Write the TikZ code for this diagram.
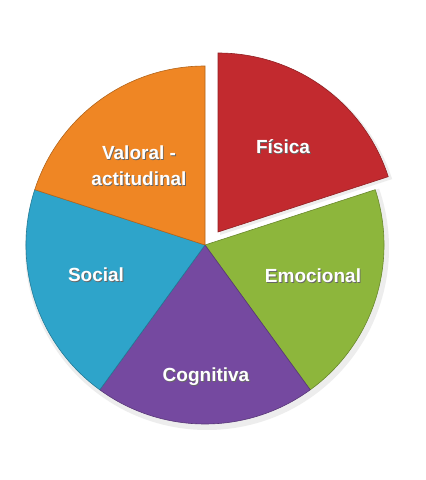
\documentclass[tikz,border=0pt]{standalone}
\usepackage{fontspec}
\setmainfont{Liberation Sans}
\usetikzlibrary{calc}
\definecolor{cred}{HTML}{C22A2F}
\definecolor{cgreen}{HTML}{8DB63C}
\definecolor{cpurple}{HTML}{7549A0}
\definecolor{cblue}{HTML}{2EA4CA}
\definecolor{corange}{HTML}{EF8624}
\newcommand{\shd}[1]{\rlap{\kern0.9pt\raisebox{-0.9pt}{\color{black!60}#1}}#1}
\begin{document}
\begin{tikzpicture}[x=1pt,y=1pt,
  lbl/.style={text=white,font=\bfseries\fontsize{19}{26}\selectfont,align=center,inner sep=0pt},
  slice/.style={draw=#1!75!black,line width=0.6pt,fill=#1}]
\useasboundingbox (0,0) rectangle (426,480);
\fill[white] (0,0) rectangle (426,480);
\coordinate (C) at (205,235);
\def\R{179}
% soft shadow
\fill[black!7] ($(C)+(2,-3)$) circle (\R+3);
\fill[white] (C) ++(90:\R+8) arc (90:18:\R+8) -- (C) -- cycle;
% slices
\fill[slice=cgreen] (C) -- ++(18:\R) arc (18:-54:\R) -- cycle;
\fill[slice=cpurple] (C) -- ++(-54:\R) arc (-54:-126:\R) -- cycle;
\fill[slice=cblue] (C) -- ++(-126:\R) arc (-126:-198:\R) -- cycle;
\fill[slice=corange] (C) -- ++(162:\R) arc (162:90:\R) -- cycle;
\coordinate (C2) at ($(C)+(13,13)$);
\fill[black!7] ($(C2)+(2,-3)$) -- ++(90:\R+2) arc (90:18:\R+2) -- cycle;
\fill[slice=cred] (C2) -- ++(90:\R) arc (90:18:\R) -- cycle;
% labels
\node[lbl] (fis) at (283,333) {\shd{Física}};
\node[lbl] (val) at (139,314) {\shd{Valoral -}\\\shd{actitudinal}};
\node[lbl] (soc) at (96,205) {\shd{Social}};
\node[lbl] (emo) at (313,204) {\shd{Emocional}};
\node[lbl] (cog) at (206,103) {\shd{Cognitiva}};
\end{tikzpicture}
\end{document}
